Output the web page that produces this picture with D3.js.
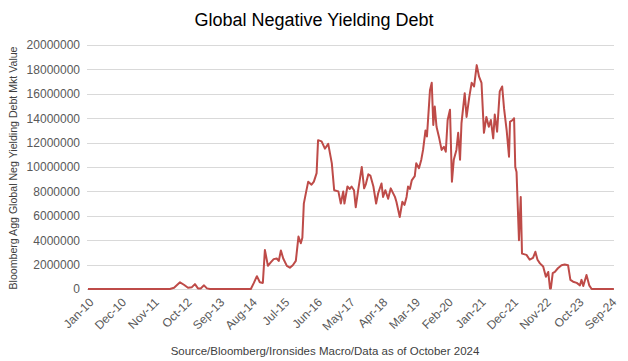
<!DOCTYPE html>
<html>
<head>
<meta charset="utf-8">
<script src="https://cdn.jsdelivr.net/npm/d3@7"></script>
<style>
  body { margin: 0; background: #fff; }
  svg { display: block; font-family: "Liberation Sans", Arial, sans-serif; }
</style>
</head>
<body>
<svg id="chart" width="628" height="361"></svg>
<script>
// readings, value in millions
var dates = [
  "2010-01-01", "2012-04-19", "2012-06-01", "2012-08-01", "2012-09-10", "2012-10-22",
  "2012-12-01", "2013-01-01", "2013-02-01", "2013-03-01", "2013-04-04", "2013-05-04",
  "2013-06-04", "2014-07-28", "2014-08-28", "2014-09-28", "2014-10-28", "2014-11-28",
  "2014-12-19", "2015-01-19", "2015-02-19", "2015-03-19", "2015-04-19", "2015-05-10",
  "2015-06-01", "2015-06-25", "2015-08-01", "2015-09-01", "2015-10-01", "2015-11-01",
  "2015-11-28", "2015-12-22", "2016-01-07", "2016-01-22", "2016-02-13", "2016-03-07",
  "2016-04-10", "2016-05-04", "2016-06-01", "2016-06-16", "2016-07-22", "2016-08-25",
  "2016-09-28", "2016-11-04", "2016-11-28", "2017-01-10", "2017-02-04", "2017-03-01",
  "2017-03-13", "2017-04-13", "2017-05-07", "2017-05-25", "2017-06-19", "2017-07-07",
  "2017-08-01", "2017-09-07", "2017-10-01", "2017-10-19", "2017-11-13", "2017-12-04",
  "2018-01-04", "2018-02-01", "2018-02-22", "2018-03-28", "2018-04-13", "2018-05-07",
  "2018-06-04", "2018-07-01", "2018-07-22", "2018-08-13", "2018-08-28", "2018-10-01",
  "2018-10-28", "2018-11-19", "2018-12-10", "2018-12-25", "2019-01-13", "2019-02-01",
  "2019-03-04", "2019-03-19", "2019-04-16", "2019-05-10", "2019-05-28", "2019-06-22",
  "2019-07-07", "2019-08-07", "2019-08-25", "2019-09-10", "2019-09-25", "2019-10-13",
  "2019-11-10", "2019-12-04", "2019-12-28", "2020-01-16", "2020-02-04", "2020-02-28",
  "2020-03-19", "2020-04-07", "2020-05-04", "2020-05-22", "2020-06-10", "2020-06-25",
  "2020-07-28", "2020-08-16", "2020-09-13", "2020-10-07", "2020-11-01", "2020-11-28",
  "2020-12-22", "2021-01-16", "2021-02-10", "2021-03-07", "2021-04-01", "2021-04-22",
  "2021-05-16", "2021-06-01", "2021-06-25", "2021-07-22", "2021-08-16", "2021-09-04",
  "2021-10-01", "2021-10-25", "2021-11-04", "2021-12-01", "2021-12-16", "2021-12-28",
  "2022-01-10", "2022-02-04", "2022-02-22", "2022-03-07", "2022-04-22", "2022-05-25",
  "2022-06-28", "2022-07-22", "2022-08-13", "2022-09-07", "2022-10-10", "2022-11-07",
  "2022-12-01", "2022-12-19", "2022-12-28", "2023-01-16", "2023-02-07", "2023-03-10",
  "2023-04-16", "2023-05-19", "2023-06-22", "2023-07-16", "2023-08-13", "2023-09-19",
  "2023-10-22", "2023-11-07", "2023-11-25", "2023-12-28", "2024-01-25", "2024-02-19",
  "2024-10-04"
];
var values = [
  0, 0, 0.1, 0.55, 0.35, 0.1,
  0.15, 0.4, 0.05, 0.05, 0.3, 0.05,
  0, 0, 0.5, 1.05, 0.55, 0.5,
  3.2, 1.9, 2.2, 2.45, 2.5, 2.3,
  3.15, 2.5, 1.9, 1.75, 1.95, 2.3,
  4.3, 3.75, 4.2, 7.0, 7.9, 8.8,
  8.55, 8.8, 9.5, 12.2, 12.1, 11.5,
  11.9, 10.3, 8.1, 8.0, 7.0, 8.0,
  7.0, 8.4, 8.2, 8.4, 8.1, 6.7,
  8.1, 10.0, 8.25, 8.6, 9.4, 9.3,
  8.4, 7.0, 7.85, 8.65, 7.55, 8.1,
  7.4, 8.25, 7.9, 7.55, 7.15, 5.9,
  7.15, 6.9, 7.55, 8.4, 8.2, 8.9,
  9.25, 10.3, 9.9, 10.6, 11.4, 13.0,
  12.5, 16.3, 16.9, 13.45, 14.95, 13.3,
  12.35, 11.4, 11.65, 11.25, 13.85, 14.7,
  8.8, 10.6, 11.4, 12.8, 10.6, 13.6,
  16.05, 14.1, 15.75, 16.9, 16.6, 18.35,
  17.4, 16.9, 12.8, 14.1, 13.3, 13.85,
  12.35, 14.3, 12.9, 16.2, 16.6, 14.8,
  13.0, 10.85, 13.7, 13.85, 14.0, 10.0,
  9.6, 4.0, 7.55, 2.9, 2.8, 2.4,
  2.55, 3.05, 2.4, 2.1, 1.85, 1.0,
  1.4, 0.05, 0.05, 1.3, 1.4, 1.7,
  1.95, 2.0, 1.95, 0.75, 0.6, 0.5,
  0.3, 0.75, 0.25, 1.15, 0.3, 0,
  0
];
var tickLabels = ["Jan-10", "Dec-10", "Nov-11", "Oct-12", "Sep-13", "Aug-14", "Jul-15",
  "Jun-16", "May-17", "Apr-18", "Mar-19", "Feb-20", "Jan-21", "Dec-21", "Nov-22",
  "Oct-23", "Sep-24"];
var yTicks = [0, 2000000, 4000000, 6000000, 8000000, 10000000, 12000000, 14000000,
  16000000, 18000000, 20000000];

var parse = d3.timeParse("%Y-%m-%d"),
    parseTick = d3.timeParse("%b-%y");

var data = dates.map(function(d, i) {
  return { date: parse(d), value: values[i] * 1e6 };
});

var svg = d3.select("#chart"),
    plotLeft = 87, plotRight = 614, plotTop = 45, plotBottom = 289;

var x = d3.scaleTime()
    .domain([parse("2010-01-01"), parse("2024-10-05")])
    .range([plotLeft + 1, plotRight]);
var y = d3.scaleLinear()
    .domain([0, 20000000])
    .range([plotBottom, plotTop]);

// title
svg.append("text")
  .attr("x", 314).attr("y", 26)
  .attr("text-anchor", "middle")
  .attr("font-size", 18)
  .attr("fill", "#000")
  .text("Global Negative Yielding Debt");

// gridlines
svg.append("g")
  .selectAll("line")
  .data(yTicks)
  .join("line")
    .attr("x1", plotLeft).attr("x2", plotRight)
    .attr("y1", function(d) { return Math.round(y(d)) + 0.5; })
    .attr("y2", function(d) { return Math.round(y(d)) + 0.5; })
    .attr("stroke", "#d9d9d9")
    .attr("stroke-width", 1);

// y axis labels
var yAxis = svg.append("g")
  .attr("transform", "translate(" + (plotLeft - 7) + ",0)")
  .call(d3.axisLeft(y).tickValues(yTicks).tickSize(0).tickPadding(0).tickFormat(d3.format("d")));
yAxis.select(".domain").remove();
yAxis.selectAll("text").attr("font-size", 12).attr("fill", "#595959")
  .attr("font-family", "Liberation Sans, Arial, sans-serif");

// y axis title
svg.append("text")
  .attr("transform", "translate(17," + ((plotTop + plotBottom) / 2 + 1) + ") rotate(-90)")
  .attr("text-anchor", "middle")
  .attr("font-size", 10.6)
  .attr("fill", "#404040")
  .text("Bloomberg Agg Global Neg Yielding Debt Mkt Value");

// x axis labels
var xAxis = svg.append("g")
  .attr("transform", "translate(0," + plotBottom + ")")
  .call(d3.axisBottom(x).tickValues(tickLabels.map(function(t) { return parseTick(t); }))
    .tickSize(0).tickPadding(0).tickFormat(d3.timeFormat("%b-%y")));
xAxis.select(".domain").remove();
xAxis.selectAll("text")
  .attr("font-size", 12)
  .attr("fill", "#595959")
  .attr("font-family", "Liberation Sans, Arial, sans-serif")
  .attr("text-anchor", "end")
  .attr("y", 0)
  .attr("dy", "0.35em")
  .attr("transform", "translate(3,11) rotate(-45)");

// line
var line = d3.line()
  .x(function(d) { return x(d.date); })
  .y(function(d) { return y(d.value); });

svg.append("path")
  .datum(data)
  .attr("d", line)
  .attr("fill", "none")
  .attr("stroke", "#be4b48")
  .attr("stroke-width", 2)
  .attr("stroke-linejoin", "round");

// source note
svg.append("text")
  .attr("x", 325).attr("y", 355)
  .attr("text-anchor", "middle")
  .attr("font-size", 11.5)
  .attr("fill", "#404040")
  .text("Source/Bloomberg/Ironsides Macro/Data as of October 2024");
</script>
</body>
</html>
